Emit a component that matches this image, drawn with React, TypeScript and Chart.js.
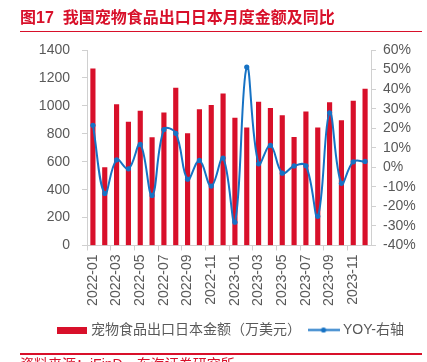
import React, { useEffect, useRef } from "react";
import { Chart, registerables } from "chart.js";

Chart.register(...registerables);

const months = [
  "2022-01", "2022-02", "2022-03", "2022-04", "2022-05", "2022-06",
  "2022-07", "2022-08", "2022-09", "2022-10", "2022-11", "2022-12",
  "2023-01", "2023-02", "2023-03", "2023-04", "2023-05", "2023-06",
  "2023-07", "2023-08", "2023-09", "2023-10", "2023-11", "2023-12",
];
const amount = [
  1266, 558, 1010, 883, 962, 773, 950, 1127, 802, 974, 1003, 1086,
  912, 842, 1027, 983, 931, 775, 957, 842, 1024, 895, 1034, 1120,
];
const yoy = [
  21.5, -13.4, 3.8, -0.8, 11.7, -14.4, 19.3, 17.4, -6.1, 3.5, -9.6, 4.7,
  -28.1, 51.3, 1.8, 11.2, -3.0, 0.7, 0.8, -25.1, 27.9, -8.2, 2.8, 3.0,
];
const leftTicks = { min: 0, max: 1400, step: 200 };
const rightTicks = { min: -40, max: 60, step: 10 };

const RED = "#d8102a";
const BLUE = "#1672c4";
const GRAY = "#595959";
const AXIS = "#d0d0d0";
const FONT = "'Liberation Sans', 'Noto Sans CJK SC', sans-serif";

function makeBox(): HTMLCanvasElement {
  const c = document.createElement("canvas");
  c.width = 30;
  c.height = 7;
  const g = c.getContext("2d")!;
  g.fillStyle = RED;
  g.fillRect(0, 0, 30, 7);
  return c;
}
function makeLine(): HTMLCanvasElement {
  const c = document.createElement("canvas");
  c.width = 32;
  c.height = 7;
  const g = c.getContext("2d")!;
  g.strokeStyle = BLUE;
  g.lineWidth = 2;
  g.beginPath();
  g.moveTo(0, 3.5);
  g.lineTo(32, 3.5);
  g.stroke();
  g.fillStyle = BLUE;
  g.beginPath();
  g.arc(16, 3.5, 2.6, 0, Math.PI * 2);
  g.fill();
  return c;
}

export default function App() {
  const ref = useRef<HTMLCanvasElement | null>(null);
  useEffect(() => {
    if (!ref.current) return;
    const boxImg = makeBox();
    const lineImg = makeLine();
    const chart = new Chart(ref.current, {
      type: "bar",
      data: {
        labels: months,
        datasets: [
          {
            type: "bar",
            label: "宠物食品出口日本金额（万美元）",
            data: amount,
            backgroundColor: RED,
            barThickness: 4.5,
            yAxisID: "y",
            order: 2,
          },
          {
            type: "line",
            label: "YOY-右轴",
            data: yoy,
            borderColor: BLUE,
            backgroundColor: BLUE,
            borderWidth: 2,
            pointRadius: 2.6,
            pointBorderWidth: 0,
            pointBackgroundColor: BLUE,
            tension: 0.4,
            yAxisID: "y1",
            order: 1,
          } as any,
        ],
      },
      options: {
        responsive: false,
        animation: false,
        layout: { padding: { top: 50, left: 36, right: 0, bottom: 15 } },
        plugins: {
          tooltip: { enabled: false },
          legend: {
            position: "bottom",
            labels: {
              usePointStyle: true,
              pointStyleWidth: 25,
              boxHeight: 7,
              padding: 10,
              color: GRAY,
              font: { size: 14, family: FONT },
              sort: (a: any, b: any) => a.datasetIndex - b.datasetIndex,
              generateLabels: (ch: any) => {
                const items = Chart.defaults.plugins.legend.labels.generateLabels(ch);
                items.forEach((it: any) => {
                  it.pointStyle = it.datasetIndex === 0 ? boxImg : lineImg;
                  it.rotation = 0;
                });
                return items;
              },
            },
          },
        },
        scales: {
          x: {
            type: "category",
            offset: true,
            grid: {
              offset: true,
              drawOnChartArea: false,
              drawTicks: true,
              tickLength: 5,
              color: (ctx: any) =>
                typeof ctx.index === "number" && ctx.index % 2 === 0 ? AXIS : "rgba(0,0,0,0)",
            },
            border: { color: AXIS },
            ticks: {
              autoSkip: false,
              minRotation: 90,
              maxRotation: 90,
              padding: 4,
              color: GRAY,
              font: { size: 14, family: FONT },
              callback: (_v: any, i: number) => (i % 2 === 0 ? months[i] : ""),
            },
            afterFit: (s: any) => {
              s.height = 67.5;
            },
          },
          y: {
            position: "left",
            min: leftTicks.min,
            max: leftTicks.max,
            grid: { drawOnChartArea: false, tickLength: 5, color: AXIS },
            border: { color: AXIS },
            ticks: {
              stepSize: leftTicks.step,
              autoSkip: false,
              padding: 12,
              color: GRAY,
              font: { size: 14, family: FONT },
              callback: (v: any) => String(v),
            },
            afterFit: (s: any) => {
              s.width = 51;
            },
          },
          y1: {
            position: "right",
            min: rightTicks.min,
            max: rightTicks.max,
            grid: { drawOnChartArea: false, tickLength: 5, color: AXIS },
            border: { color: AXIS },
            ticks: {
              stepSize: rightTicks.step,
              autoSkip: false,
              padding: 7,
              color: GRAY,
              font: { size: 14, family: FONT },
              callback: (v: any) => v + "%",
            },
            afterFit: (s: any) => {
              s.width = 56;
            },
          },
        },
      } as any,
    });
    return () => chart.destroy();
  }, []);

  return (
    <div
      style={{
        position: "fixed",
        left: 0,
        top: 0,
        width: 427,
        height: 362,
        overflow: "hidden",
        background: "#fff",
      }}
    >
      <canvas ref={ref} width={427} height={362} style={{ position: "absolute", left: 0, top: 0 }} />
      <div
        style={{
          position: "absolute",
          left: 20,
          top: 8,
          lineHeight: "20px",
          fontSize: 16,
          fontWeight: "bold",
          color: RED,
          fontFamily: FONT,
          whiteSpace: "nowrap",
        }}
      >
        图17&nbsp;&nbsp;我国宠物食品出口日本月度金额及同比
      </div>
      <div style={{ position: "absolute", left: 20, top: 31, width: 402, height: 1, background: RED }} />
      <div style={{ position: "absolute", left: 20, top: 353, width: 402, height: 1.5, background: RED }} />
      <div
        style={{
          position: "absolute",
          left: 20,
          top: 355,
          lineHeight: "18px",
          fontSize: 14,
          color: RED,
          fontFamily: FONT,
          whiteSpace: "nowrap",
        }}
      >
        资料来源：iFinD，东海证券研究所
      </div>
    </div>
  );
}
